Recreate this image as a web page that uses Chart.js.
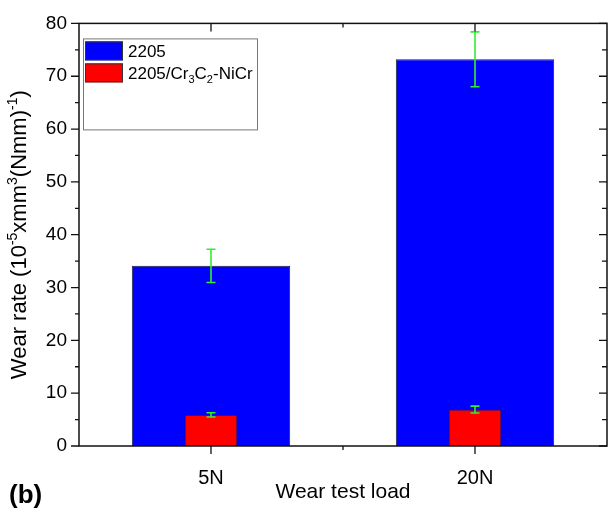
<!DOCTYPE html>
<html lang="en">
<head>
    <meta charset="UTF-8">
    <title>Wear rate</title>
    <script src="https://cdn.jsdelivr.net/npm/chart.js"></script>
    <style>
        body {
            margin: 0;
            padding: 0;
            background: #fff;
        }
        #wearChart {
            display: block;
        }
    </style>
</head>
<body>
    <canvas id="wearChart" width="609" height="510"></canvas>

    <script>
        // values
        const loads = ['5N', '20N'];
        const rate2205 = [34.1, 73.2];
        const err2205 = [3.15, 5.2];
        const rateCoated = [5.9, 6.9];
        const errCoated = [0.4, 0.65];
        const yMin = 0;
        const yMax = 80;
        const yStep = 10;

        const FONT = "'Liberation Sans', Arial, sans-serif";
        const ERR_COLOR = '#33ee33';

        // draws text made of normal / sup / sub pieces, centred on x=0
        function drawRichText(ctx, parts, size) {
            const small = Math.round(size * 0.62);
            let total = 0;
            parts.forEach(p => {
                ctx.font = (p.sup || p.sub ? small : size) + 'px ' + FONT;
                p.w = ctx.measureText(p.t).width;
                total += p.w;
            });
            let x = -total / 2;
            parts.forEach(p => {
                ctx.font = (p.sup || p.sub ? small : size) + 'px ' + FONT;
                let dy = 0;
                if (p.sup) dy = -size * 0.4;
                if (p.sub) dy = size * 0.22;
                ctx.fillText(p.t, x, dy);
                x += p.w;
            });
            return total;
        }

        const decorations = {
            id: 'decorations',
            afterDatasetsDraw(chart) {
                const ctx = chart.ctx;
                const xs = chart.scales.x;
                const ys = chart.scales.y;
                const sets = [[rate2205, err2205], [rateCoated, errCoated]];
                ctx.save();
                ctx.strokeStyle = ERR_COLOR;
                ctx.lineWidth = 1.6;
                sets.forEach(([vals, errs]) => {
                    vals.forEach((v, i) => {
                        const px = xs.getPixelForValue(i);
                        const top = ys.getPixelForValue(v + errs[i]);
                        const bot = ys.getPixelForValue(v - errs[i]);
                        ctx.beginPath();
                        ctx.moveTo(px, top);
                        ctx.lineTo(px, bot);
                        ctx.moveTo(px - 4.5, top);
                        ctx.lineTo(px + 4.5, top);
                        ctx.moveTo(px - 4.5, bot);
                        ctx.lineTo(px + 4.5, bot);
                        ctx.stroke();
                    });
                });
                ctx.restore();
            },
            afterDraw(chart) {
                const ctx = chart.ctx;
                const a = chart.chartArea;
                const xs = chart.scales.x;
                const ys = chart.scales.y;
                ctx.save();

                // frame
                ctx.strokeStyle = '#111';
                ctx.lineWidth = 1.5;
                ctx.strokeRect(a.left, a.top, a.right - a.left, a.bottom - a.top);

                // y ticks: outside on the left, inside on the right
                ctx.lineWidth = 1.3;
                ctx.beginPath();
                for (let v = yMin; v <= yMax; v += yStep / 2) {
                    const py = ys.getPixelForValue(v);
                    const major = v % yStep === 0;
                    const lenL = major ? 8 : 4;
                    const lenR = major ? 8 : 5;
                    ctx.moveTo(a.left - lenL, py);
                    ctx.lineTo(a.left, py);
                    ctx.moveTo(a.right, py);
                    ctx.lineTo(a.right - lenR, py);
                }

                // x ticks at the loads, small ones between
                const pts = loads.map((c, i) => xs.getPixelForValue(i));
                pts.forEach(px => {
                    ctx.moveTo(px, a.bottom);
                    ctx.lineTo(px, a.bottom + 8);
                    ctx.moveTo(px, a.top);
                    ctx.lineTo(px, a.top + 8);
                });
                for (let i = 0; i < pts.length - 1; i++) {
                    const mid = (pts[i] + pts[i + 1]) / 2;
                    ctx.moveTo(mid, a.bottom);
                    ctx.lineTo(mid, a.bottom + 4);
                    ctx.moveTo(mid, a.top);
                    ctx.lineTo(mid, a.top + 4);
                }
                ctx.stroke();

                // axis titles
                ctx.fillStyle = '#000';
                ctx.textBaseline = 'alphabetic';
                ctx.textAlign = 'left';
                ctx.save();
                ctx.translate((a.left + a.right) / 2, 498);
                drawRichText(ctx, [{ t: 'Wear test load' }], 21);
                ctx.restore();

                ctx.save();
                ctx.translate(26, (a.top + a.bottom) / 2);
                ctx.rotate(-Math.PI / 2);
                drawRichText(ctx, [
                    { t: 'Wear rate (10' }, { t: '-5', sup: true },
                    { t: 'xmm' }, { t: '3', sup: true },
                    { t: '(Nmm)' }, { t: '-1', sup: true }, { t: ')' }
                ], 22);
                ctx.restore();

                // panel letter
                ctx.font = 'bold 26px ' + FONT;
                ctx.fillText('(b)', 9, 503);

                // legend box
                const lx = a.left + 4, ly = a.top + 15;
                ctx.fillStyle = '#fff';
                ctx.fillRect(lx, ly, 174, 91);
                ctx.strokeStyle = '#777';
                ctx.lineWidth = 1;
                ctx.strokeRect(lx + 0.5, ly + 0.5, 174, 91);
                const items = [
                    { color: '#0000ff', parts: [{ t: '2205' }] },
                    { color: '#ff0000', parts: [{ t: '2205/Cr' }, { t: '3', sub: true }, { t: 'C' }, { t: '2', sub: true }, { t: '-NiCr' }] }
                ];
                items.forEach((it, k) => {
                    const sy = ly + 3 + k * 22;
                    ctx.fillStyle = it.color;
                    ctx.fillRect(lx + 2, sy, 38, 19);
                    ctx.strokeStyle = '#333';
                    ctx.strokeRect(lx + 2.5, sy + 0.5, 37, 18);
                    ctx.fillStyle = '#000';
                    ctx.save();
                    let w = 0;
                    it.parts.forEach(p => {
                        ctx.font = (p.sub ? 11 : 17) + 'px ' + FONT;
                        w += ctx.measureText(p.t).width;
                    });
                    // drawRichText centres, so shift by half its width
                    ctx.translate(lx + 45 + w / 2, sy + 16);
                    drawRichText(ctx, it.parts, 17);
                    ctx.restore();
                });

                ctx.restore();
            }
        };

        new Chart(document.getElementById('wearChart'), {
            type: 'bar',
            data: {
                labels: loads,
                datasets: [{
                    label: '2205',
                    data: rate2205,
                    backgroundColor: '#0000ff',
                    borderColor: '#222',
                    borderWidth: 1,
                    barPercentage: 0.6,
                    categoryPercentage: 1,
                    grouped: false,
                    order: 2
                }, {
                    label: '2205/Cr3C2-NiCr',
                    data: rateCoated,
                    backgroundColor: '#ff0000',
                    borderColor: '#222',
                    borderWidth: 1,
                    barPercentage: 0.2,
                    categoryPercentage: 1,
                    grouped: false,
                    order: 1
                }]
            },
            options: {
                responsive: false,
                animation: false,
                layout: { padding: { top: 19, right: 2, left: 0, bottom: 0 } },
                plugins: {
                    legend: { display: false },
                    tooltip: { enabled: false }
                },
                scales: {
                    x: {
                        offset: true,
                        grid: { display: false, drawTicks: false },
                        border: { display: false },
                        ticks: { color: '#000', padding: 20, font: { family: FONT, size: 20 } },
                        afterFit(s) { s.height = 64; }
                    },
                    y: {
                        min: yMin,
                        max: yMax,
                        grid: { display: false, drawTicks: false },
                        border: { display: false },
                        ticks: { stepSize: yStep, color: '#000', padding: 12, font: { family: FONT, size: 19 } },
                        afterFit(s) { s.width = 79; }
                    }
                }
            },
            plugins: [decorations]
        });
    </script>
</body>
</html>
